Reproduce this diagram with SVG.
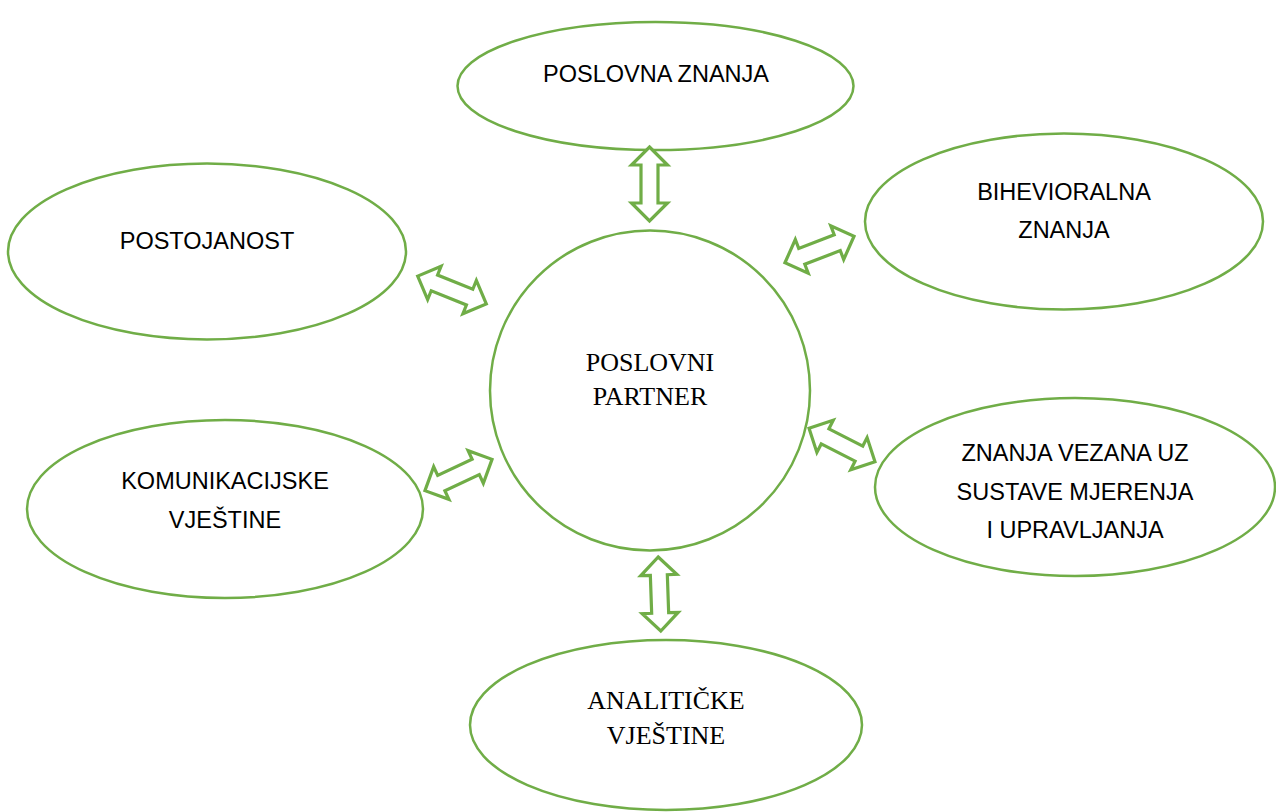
<svg xmlns="http://www.w3.org/2000/svg" width="1276" height="812" viewBox="0 0 1276 812">
<style>
.n{fill:#fff;stroke:#70AD47;stroke-width:2.5}
.a{fill:#fff;stroke:#70AD47;stroke-width:3.2;stroke-linejoin:miter}
.s{font-family:"Liberation Sans",Arial,sans-serif;font-size:23.5px;fill:#000;text-anchor:middle}
.r{font-family:"Liberation Serif","Times New Roman",serif;font-size:26px;fill:#000;text-anchor:middle}
</style>
<defs>
<path id="arr" d="M -37,0 L -19,-18 L -19,-8.5 L 19,-8.5 L 19,-18 L 37,0 L 19,18 L 19,8.5 L -19,8.5 L -19,18 Z"/>
</defs>
<rect width="1276" height="812" fill="#fff"/>
<g id="n-poslovna"><ellipse class="n" cx="655.5" cy="86" rx="198" ry="64"/><text class="s" x="656" y="82">POSLOVNA ZNANJA</text></g>
<g id="n-bihevioralna"><ellipse class="n" cx="1064" cy="221.5" rx="199" ry="88"/><text class="s" x="1064" y="200">BIHEVIORALNA</text><text class="s" x="1064" y="238">ZNANJA</text></g>
<g id="n-postojanost"><ellipse class="n" cx="207" cy="251.5" rx="199" ry="88"/><text class="s" x="207" y="249">POSTOJANOST</text></g>
<g id="n-partner"><circle class="n" cx="650" cy="390.5" r="160"/><text class="r" x="650" y="371">POSLOVNI</text><text class="r" x="650" y="405">PARTNER</text></g>
<g id="n-komunikacijske"><ellipse class="n" cx="225" cy="509" rx="198" ry="89"/><text class="s" x="225" y="489">KOMUNIKACIJSKE</text><text class="s" x="225" y="528">VJEŠTINE</text></g>
<g id="n-znanja"><ellipse class="n" cx="1075" cy="487" rx="200" ry="89"/><text class="s" x="1075" y="461">ZNANJA VEZANA UZ</text><text class="s" x="1075" y="500">SUSTAVE MJERENJA</text><text class="s" x="1075" y="538">I UPRAVLJANJA</text></g>
<g id="n-analiticke"><ellipse class="n" cx="666" cy="725" rx="196" ry="85"/><text class="r" x="666" y="709">ANALITIČKE</text><text class="r" x="666" y="744">VJEŠTINE</text></g>
<g id="connectors">
<use href="#arr" class="a" transform="translate(649.5,184) rotate(90)"/>
<use href="#arr" class="a" transform="translate(659.5,594) rotate(88)"/>
<use href="#arr" class="a" transform="translate(452,290) rotate(22)"/>
<use href="#arr" class="a" transform="translate(819.5,249.5) rotate(-21)"/>
<use href="#arr" class="a" transform="translate(842,445) rotate(27)"/>
<use href="#arr" class="a" transform="translate(458.5,475) rotate(-25)"/>
</g>
</svg>
